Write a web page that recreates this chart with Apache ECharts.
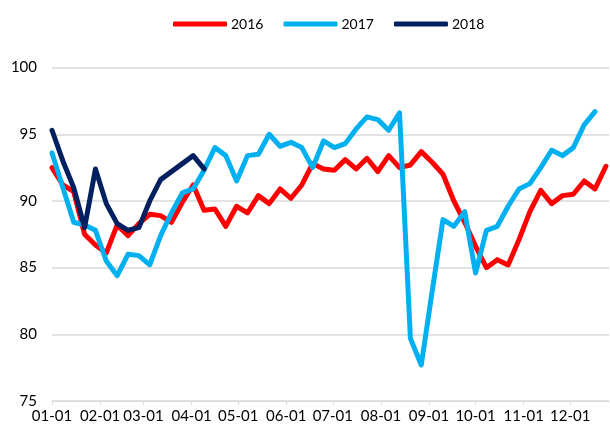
<!DOCTYPE html>
<html>
<head>
<meta charset="utf-8">
<script src="https://cdn.jsdelivr.net/npm/echarts@6/dist/echarts.min.js"></script>
<style>
  html, body { margin: 0; padding: 0; background: #fff; }
  #chart { width: 610px; height: 430px; }
</style>
</head>
<body>
<div id="chart"></div>
<script>
// weekly readings, one point every 7 days starting 01-01
const series2016 = [92.5, 91.2, 90.7, 87.5, 86.7, 86.1, 88.2, 87.4, 88.3, 89.0,
  88.9, 88.4, 89.9, 91.2, 89.3, 89.4, 88.1, 89.6, 89.1, 90.4,
  89.8, 90.9, 90.2, 91.2, 92.8, 92.4, 92.3, 93.1, 92.4, 93.2,
  92.2, 93.4, 92.5, 92.7, 93.7, 92.9, 92.0, 90.0, 88.4, 86.6,
  85.0, 85.6, 85.2, 87.1, 89.2, 90.8, 89.8, 90.4, 90.5, 91.5,
  90.9, 92.6];
const series2017 = [93.6, 91.0, 88.4, 88.2, 87.8, 85.5, 84.4, 86.0, 85.9, 85.2,
  87.4, 89.1, 90.6, 90.9, 92.3, 94.0, 93.4, 91.5, 93.4, 93.5,
  95.0, 94.1, 94.4, 94.0, 92.5, 94.5, 94.0, 94.3, 95.4, 96.3,
  96.1, 95.3, 96.6, 79.7, 77.7, 83.2, 88.6, 88.1, 89.2, 84.6,
  87.8, 88.1, 89.6, 90.9, 91.3, 92.5, 93.8, 93.4, 94.0, 95.7,
  96.7];
const series2018 = [95.3, 93.0, 91.0, 88.0, 92.4, 89.8, 88.3, 87.8, 88.0, 90.0,
  91.6, 92.2, 92.8, 93.4, 92.4];

// x axis in days from 01-01
const monthDays = [0, 31, 59, 90, 120, 151, 181, 212, 243, 273, 304, 334];
const monthLabels = ['01-01', '02-01', '03-01', '04-01', '05-01', '06-01',
  '07-01', '08-01', '09-01', '10-01', '11-01', '12-01'];
const dayMax = 359;
const stepDays = 7;

const yTicks = [75, 80, 85, 90, 95, 100];

function toPoints(arr) {
  return arr.map(function (v, i) { return [i * stepDays, v]; });
}

const chart = echarts.init(document.getElementById('chart'));
const font = 'Lato, "Liberation Sans", sans-serif';

function lineSeries(name, color, data) {
  return {
    name: name,
    type: 'line',
    data: toPoints(data),
    symbol: 'none',
    smooth: false,
    lineStyle: { color: color, width: 5, cap: 'round', join: 'round' },
    itemStyle: { color: color },
    emphasis: { disabled: true }
  };
}

chart.setOption({
  animation: false,
  legend: {
    top: 12,
    left: 168,
    icon: 'roundRect',
    itemWidth: 54,
    itemHeight: 5,
    itemGap: 20,
    textStyle: { fontFamily: font, fontSize: 14, color: '#000', padding: [0, 0, 0, -1] },
    data: ['2016', '2017', '2018']
  },
  grid: { left: 52, right: 1, top: 67.6, bottom: 29 },
  xAxis: {
    type: 'value',
    min: 0,
    max: dayMax,
    splitLine: { show: false },
    axisLine: { show: true, lineStyle: { color: '#D9D9D9', width: 1 } },
    axisTick: { show: true, length: 4, lineStyle: { color: '#D9D9D9' }, customValues: monthDays },
    axisLabel: {
      customValues: monthDays,
      formatter: function (v) { return monthLabels[monthDays.indexOf(v)]; },
      fontFamily: font, fontSize: 15, color: '#000', margin: 8
    }
  },
  yAxis: {
    type: 'value',
    min: yTicks[0],
    max: yTicks[yTicks.length - 1],
    interval: 5,
    axisLine: { show: false },
    axisTick: { show: false },
    splitLine: { lineStyle: { color: '#D9D9D9', width: 1.5 } },
    axisLabel: { fontFamily: font, fontSize: 15, color: '#000', margin: 15 }
  },
  series: [
    lineSeries('2016', '#FF0000', series2016),
    lineSeries('2017', '#00B0F0', series2017),
    lineSeries('2018', '#002060', series2018)
  ]
});
</script>
</body>
</html>
